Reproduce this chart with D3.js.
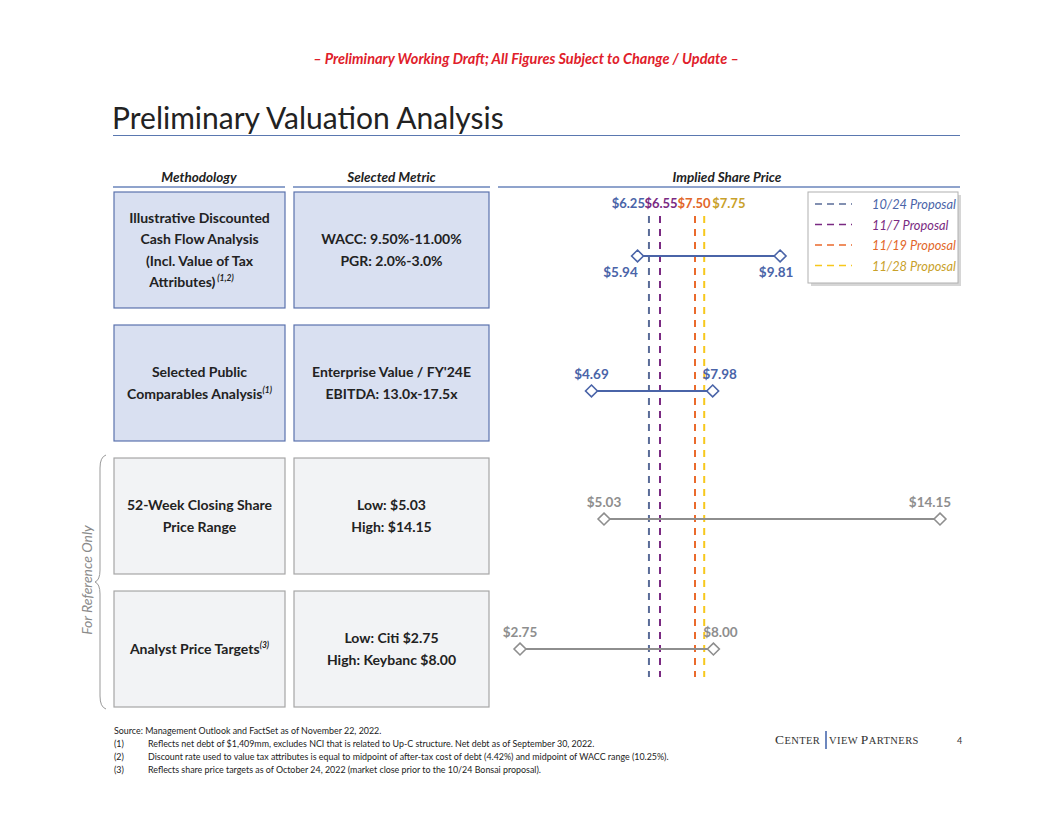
<!DOCTYPE html>
<html>
<head>
<meta charset="utf-8">
<script src="https://cdn.jsdelivr.net/npm/d3@7"></script>
<style>
  body { margin: 0; background: #fff; }
  svg { font-family: Lato, "Open Sans", sans-serif; }
</style>
</head>
<body>
<div id="chart"></div>
<script>
// rows of the football field
const methods = [
  ["Illustrative Discounted", "Cash Flow Analysis", "(Incl. Value of Tax", "Attributes)"],
  ["Selected Public", "Comparables Analysis"],
  ["52-Week Closing Share", "Price Range"],
  ["Analyst Price Targets"]
]
const methodNotes = ["(1,2)", "(1)", "", "(3)"]
const metrics = [
  ["WACC: 9.50%-11.00%", "PGR: 2.0%-3.0%"],
  ["Enterprise Value / FY'24E", "EBITDA: 13.0x-17.5x"],
  ["Low: $5.03", "High: $14.15"],
  ["Low: Citi $2.75", "High: Keybanc $8.00"]
]
const lows = [5.94, 4.69, 5.03, 2.75]
const highs = [9.81, 7.98, 14.15, 8.00]

const proposals = ["10/24 Proposal", "11/7 Proposal", "11/19 Proposal", "11/28 Proposal"]
const proposalPrices = [6.25, 6.55, 7.50, 7.75]

const footnotes = [
  ["(1)", "Reflects net debt of $1,409mm, excludes NCI that is related to Up-C structure. Net debt as of September 30, 2022."],
  ["(2)", "Discount rate used to value tax attributes is equal to midpoint of after-tax cost of debt (4.42%) and midpoint of WACC range (10.25%)."],
  ["(3)", "Reflects share price targets as of October 24, 2022 (market close prior to the 10/24 Bonsai proposal)."]
]

const W = 1056, H = 816
const blue = "#4a64a8"
const grey = "#8e8e8e"
const lineCols = ["#5a6c98", "#7a2a82", "#ea6a2c", "#f7c81c"]
const textCols = ["#4a64a8", "#7a2a82", "#e2672a", "#c9a12a"]

const svg = d3.select("#chart").append("svg")
  .attr("width", W).attr("height", H)

// banner
svg.append("text")
  .attr("x", 526).attr("y", 64)
  .attr("text-anchor", "middle")
  .attr("fill", "#e0202a")
  .style("font-size", "14.5px").style("font-weight", "bold").style("font-style", "italic")
  .text("– Preliminary Working Draft; All Figures Subject to Change / Update –")

svg.append("text")
  .attr("x", 112).attr("y", 129)
  .attr("fill", "#222")
  .style("font-size", "30px")
  .text("Preliminary Valuation Analysis")

svg.append("line")
  .attr("x1", 113).attr("x2", 960).attr("y1", 135.5).attr("y2", 135.5)
  .attr("stroke", "#5a78b0").attr("stroke-width", 1.2)

// column headers
const heads = [
  {t: "Methodology", x1: 113, x2: 285},
  {t: "Selected Metric", x1: 293, x2: 490},
  {t: "Implied Share Price", x1: 498, x2: 960}
]
heads.forEach(h => {
  svg.append("text")
    .attr("x", h.t === "Implied Share Price" ? 727 : (h.x1 + h.x2) / 2).attr("y", 182)
    .attr("text-anchor", "middle").attr("fill", "#222")
    .style("font-size", "13.5px").style("font-weight", "bold").style("font-style", "italic")
    .text(h.t)
  svg.append("line")
    .attr("x1", h.x1).attr("x2", h.x2).attr("y1", 187).attr("y2", 187)
    .attr("stroke", "#8fa3cc").attr("stroke-width", 2)
})

const y = d3.scaleBand().domain(d3.range(4)).range([192, 707]).paddingInner(0.128)
const x = d3.scaleLinear().domain([2.75, 14.15]).range([520, 940])

// boxes
const cols = [{x: 114, w: 171, lines: methods}, {x: 294, w: 195, lines: metrics}]
cols.forEach((c, ci) => {
  d3.range(4).forEach(i => {
    const isBlue = i < 2
    svg.append("rect")
      .attr("x", c.x).attr("y", y(i)).attr("width", c.w).attr("height", y.bandwidth())
      .attr("fill", isBlue ? "#d9e0f1" : "#f2f3f5")
      .attr("stroke", isBlue ? "#5b72ad" : "#a6a6a6").attr("stroke-width", 1.2)
    const lines = c.lines[i]
    const lh = 21.5
    const cy = y(i) + y.bandwidth() / 2
    lines.forEach((l, k) => {
      const t = svg.append("text")
        .attr("x", c.x + c.w / 2 + (ci === 0 && i === 0 && k === 3 ? -8 : 0))
        .attr("y", cy + (k - (lines.length - 1) / 2) * lh + 5)
        .attr("text-anchor", "middle").attr("fill", "#222")
        .style("font-size", "14px").style("font-weight", "bold")
        .text(l)
      if (ci === 0 && k === lines.length - 1 && methodNotes[i]) {
        t.append("tspan")
          .attr("dy", -6)
          .style("font-size", "8.5px").style("font-style", "italic")
          .text((i === 0 ? " " : "") + methodNotes[i])
      }
    })
  })
})

// proposal lines
proposalPrices.forEach((p, i) => {
  svg.append("line")
    .attr("x1", x(p)).attr("x2", x(p)).attr("y1", 216).attr("y2", 677)
    .attr("stroke", lineCols[i]).attr("stroke-width", 2)
    .attr("stroke-dasharray", "7,6")
})
const pAnchor = ["end", "middle", "middle", "start"]
const pShift = [-4, 1, -1, 8]
proposalPrices.forEach((p, i) => {
  svg.append("text")
    .attr("x", x(p) + pShift[i]).attr("y", 208)
    .attr("text-anchor", pAnchor[i]).attr("fill", textCols[i])
    .style("font-size", "13px").style("font-weight", "bold")
    .text(d3.format("$.2f")(p))
})

// range bars
const diamond = d3.symbol().type(d3.symbolDiamond2).size(90)
d3.range(4).forEach(i => {
  const col = i < 2 ? blue : grey
  const by = y(i) + y.bandwidth() / 2 + [6, 8, 3, 0][i]
  svg.append("line")
    .attr("x1", x(lows[i])).attr("x2", x(highs[i])).attr("y1", by).attr("y2", by)
    .attr("stroke", col).attr("stroke-width", 2)
  ;[lows[i], highs[i]].forEach((v, k) => {
    svg.append("path")
      .attr("d", diamond)
      .attr("transform", `translate(${x(v)},${by})`)
      .attr("fill", "#fff").attr("stroke", col).attr("stroke-width", 1.6)
    let lx = x(v), ly = by - 12
    if (i === 0) { ly = by + 21; lx += k === 0 ? -17 : -4 }
    if (k === 1 && i !== 0) lx += i === 2 ? -10 : 7
    svg.append("text")
      .attr("x", lx).attr("y", ly)
      .attr("text-anchor", "middle").attr("fill", col)
      .style("font-size", "13.5px").style("font-weight", "bold")
      .text(d3.format("$.2f")(v))
  })
})

// legend
const lg = svg.append("g").attr("transform", "translate(808,192)")
lg.append("rect").attr("x", 3).attr("y", 3).attr("width", 150).attr("height", 91)
  .attr("fill", "#bbb").attr("opacity", 0.6)
lg.append("rect").attr("width", 150).attr("height", 91)
  .attr("fill", "#fff").attr("stroke", "#b0b0b0").attr("stroke-width", 1)
proposals.forEach((p, i) => {
  const ly = 12 + i * 20.5
  lg.append("line")
    .attr("x1", 7).attr("x2", 44).attr("y1", ly).attr("y2", ly)
    .attr("stroke", lineCols[i]).attr("stroke-width", 1.5)
    .attr("stroke-dasharray", "7,5")
  lg.append("text")
    .attr("x", 64).attr("y", ly + 5)
    .attr("fill", textCols[i])
    .style("font-size", "12.8px").style("font-style", "italic")
    .text(p)
})

// side note and brace
svg.append("text")
  .attr("transform", "translate(92,580) rotate(-90)")
  .attr("text-anchor", "middle").attr("fill", "#8a8a8a")
  .style("font-size", "14px").style("font-style", "italic")
  .text("For Reference Only")
svg.append("path")
  .attr("d", "M106,455 Q100,457 100,468 L100,570 Q100,580 95,582 Q100,584 100,594 L100,696 Q100,707 106,709")
  .attr("fill", "none").attr("stroke", "#999").attr("stroke-width", 1)

// footnotes
const fn = svg.append("g").style("font-size", "8.9px").attr("fill", "#222")
fn.append("text").attr("x", 114).attr("y", 734).text("Source: Management Outlook and FactSet as of November 22, 2022.")
footnotes.forEach((f, i) => {
  fn.append("text").attr("x", 114).attr("y", 747 + i * 13).text(f[0])
  fn.append("text").attr("x", 148).attr("y", 747 + i * 13).text(f[1])
})

// logo
const logo = svg.append("text").attr("x", 775).attr("y", 744)
  .attr("fill", "#333").style("font-family", "'Liberation Serif', serif")
  .style("font-size", "10.5px").style("letter-spacing", "0.4px")
logo.append("tspan").style("font-size", "13.5px").text("C")
logo.append("tspan").text("ENTER")
svg.append("line").attr("x1", 826).attr("x2", 826).attr("y1", 731).attr("y2", 749)
  .attr("stroke", "#3d5fa8").attr("stroke-width", 1.5)
const logo2 = svg.append("text").attr("x", 829).attr("y", 744)
  .attr("fill", "#333").style("font-family", "'Liberation Serif', serif")
  .style("font-size", "10.5px").style("letter-spacing", "0.4px")
logo2.append("tspan").text("VIEW ")
logo2.append("tspan").style("font-size", "13.5px").text("P")
logo2.append("tspan").text("ARTNERS")
svg.append("text").attr("x", 957).attr("y", 744).attr("fill", "#333")
  .style("font-size", "9px").text("4")
</script>
</body>
</html>
